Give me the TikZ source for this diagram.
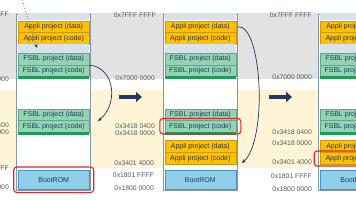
\documentclass[tikz,border=0pt]{standalone}
\usepackage{fontspec}
\setmainfont{Liberation Sans}
\usetikzlibrary{arrows.meta,fit}
\definecolor{greyband}{HTML}{E2E2E2}
\definecolor{beige}{HTML}{FFF5D6}
\definecolor{appli}{HTML}{FFC000}
\definecolor{applid}{HTML}{C99A10}
\definecolor{fsbl}{HTML}{93D3B4}
\definecolor{fsbld}{HTML}{5FA88A}
\definecolor{strip}{HTML}{1E9A58}
\definecolor{boot}{HTML}{8FCFEA}
\definecolor{bootd}{HTML}{4A90C0}
\definecolor{navy}{HTML}{1F3864}
\definecolor{lbl}{HTML}{505A66}
\definecolor{colline}{HTML}{8496A9}
\definecolor{light}{HTML}{D9E1EA}
\definecolor{redc}{HTML}{E3262B}
\begin{document}
\begin{tikzpicture}[x=1pt,y=-1pt,
 blk/.style={minimum width=71pt, inner sep=0pt, outer sep=0pt, font=\fontsize{7}{8}\selectfont, text=navy, line width=0.4pt},
 ap/.style={blk, fill=appli, draw=applid},
 fs/.style={blk, fill=fsbl, draw=fsbld},
 st/.style={blk, fill=strip, draw=none, minimum height=3pt},
 bt/.style={blk, fill=boot, draw=bootd, minimum height=19.5pt},
 lt/.style={blk, fill=light, draw=none},
 colbox/.style={draw=colline, line width=0.7pt, fill=white, minimum width=74pt, minimum height=176pt, inner sep=0pt, outer sep=0pt},
 addr/.style={font=\fontsize{6.8}{7}\selectfont, text=lbl, anchor=east, inner sep=0pt},
 redbox/.style={draw=redc, line width=1.1pt, rounded corners=3pt},
 conn/.style={draw=navy, line width=0.7pt, -{Stealth[length=4pt,width=3.5pt]}},
 bigarrow/.style={draw=navy, line width=4pt, -{Triangle[length=6pt,width=10pt]}}
]
\useasboundingbox (0,0) rectangle (356,200);
\clip (0,0) rectangle (356,200);
\fill[white] (0,0) rectangle (356,200);
\fill[greyband] (0,13) rectangle (356,79);
\fill[beige] (0,90) rectangle (356,168);

\foreach \i/\cx in {1/53.7,2/200.3,3/355.7}{
  \node[colbox] (c\i) at (\cx,102) {};
  \node[lt, minimum height=6pt] (t\i) at (\cx,17.5) {};
  \node[ap, minimum height=11.5pt] (ad\i) at (\cx,26.75) {Appli project (data)};
  \node[ap, minimum height=12pt] (ac\i) at (\cx,38.5) {Appli project (code)};
  \node[lt, minimum height=8.5pt] (g\i) at (\cx,48.75) {};
  \node[fs, minimum height=12pt] (fd\i) at (\cx,59) {FSBL project (data)};
  \node[fs, minimum height=11.5pt] (fc\i) at (\cx,70.75) {FSBL project (code)};
  \node[st] (s\i) at (\cx,78) {};
  \node[fs, minimum height=11pt] (lfd\i) at (\cx,115) {FSBL project (data)};
  \node[fs, minimum height=11.5pt] (lfc\i) at (\cx,126.25) {FSBL project (code)};
  \node[st, minimum height=3.5pt] (ls\i) at (\cx,133.75) {};
  \ifnum\i>1
    \node[ap, minimum height=12pt] (lad\i) at (\cx,146.5) {Appli project (data)};
    \node[ap, minimum height=12pt] (lac\i) at (\cx,158.5) {Appli project (code)};
  \fi
  \node[bt] (b\i) at (\cx,179.75) {BootROM};
}

% address labels
\node[addr] (l1a) at (9,14) {0x7FFF FFFF};
\node[addr] (l1b) at (9,79) {0x7000 0000};
\node[addr] (l1c) at (9,125) {0x3418 0400};
\node[addr] (l1d) at (9,132) {0x3418 0000};
\node[addr] (l1e) at (9,168) {0x1801 FFFF};
\node[addr] (l1f) at (9,187) {0x1800 0000};

\node[addr] (l2a) at (156,15) {0x7FFF FFFF};
\node[addr] (l2b) at (155,78) {0x7000 0000};
\node[addr] (l2c) at (155,126) {0x3418 0400};
\node[addr] (l2d) at (155,133) {0x3418 0000};
\node[addr] (l2e) at (154,163) {0x3401 4000};
\node[addr] (l2f) at (154,175) {0x1801 FFFF};
\node[addr] (l2g) at (154,188) {0x1800 0000};

\node[addr] (l3a) at (312,15) {0x7FFF FFFF};
\node[addr] (l3b) at (312,77) {0x7000 0000};
\node[addr] (l3c) at (312,131.7) {0x3418 0400};
\node[addr] (l3d) at (312,142.7) {0x3418 0000};
\node[addr] (l3e) at (312,161.7) {0x3401 4000};
\node[addr] (l3f) at (312,175.7) {0x1801 FFFF};
\node[addr] (l3g) at (312,189.3) {0x1800 0000};

% connectors
\coordinate (d0) at (21.5,-2);
\coordinate (d1) at (37,48);
\draw[conn, dotted, line width=0.6pt] (d0) -- (d1);
\coordinate (e1) at (98,121);
\draw[conn] (fd1.south east) .. controls (116,68) and (118,105) .. (e1);
\coordinate (e2) at (242,163);
\draw[conn] ([xshift=2pt]ad2.east) .. controls (262,24) and (268,140) .. (e2);

\coordinate (p1) at (119,97);
\coordinate (q1) at (142,97);
\draw[bigarrow] (p1) -- (q1);
\coordinate (p2) at (269,97);
\coordinate (q2) at (292,97);
\draw[bigarrow] (p2) -- (q2);

% highlight frames
\node[redbox, fit=(b1), inner xsep=4.5pt, inner ysep=3pt] (r1) {};
\node[redbox, fit=(lfc2), inner xsep=5pt, inner ysep=2pt] (r2) {};
\node[redbox, fit=(lac3), inner xsep=6pt, inner ysep=1.5pt] (r3) {};
\end{tikzpicture}
\end{document}
